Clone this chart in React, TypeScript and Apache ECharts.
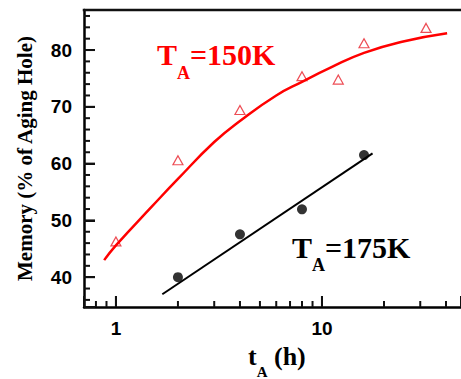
import React, { useEffect, useRef } from 'react';
import * as echarts from 'echarts';

// Measured data (T_A = 150 K, open triangles)
const t150 = [1, 2, 4, 8, 12, 16, 32];
const mem150 = [46.3, 60.6, 69.45, 75.4, 74.8, 81.2, 83.9];
// Measured data (T_A = 175 K, filled circles)
const t175 = [2, 4, 8, 16];
const mem175 = [40.0, 47.55, 51.95, 61.5];
// Fitted curves
const fit150T = [0.877, 1, 1.5, 2, 3, 4, 6, 8, 11, 16, 24.8, 40.5];
const fit150M = [43.0, 45.6, 52.5, 57.3, 63.8, 67.5, 72.0, 74.4, 76.9, 79.5, 81.5, 82.95];
const fit175T = [1.68, 17.6];
const fit175M = [37.0, 61.8];
// Ticks
const xMajorTicks = [1, 10];
const xMinorTicks = [0.8, 0.9, 2, 3, 4, 5, 6, 7, 8, 9, 20, 30, 40];
const yMajorTicks = [40, 50, 60, 70, 80];
const yMinorTicks = [36, 38, 42, 44, 46, 48, 52, 54, 56, 58, 62, 64, 66, 68, 72, 74, 76, 78, 82, 84, 86];

const X_MIN = 0.7;
const X_MAX = 47.3;
const Y_MIN = 34.75;
const Y_MAX = 87.05;

const SERIF = 'Liberation Serif';
const SANS = 'Liberation Sans';

export default function App() {
  const ref = useRef<HTMLDivElement>(null);
  useEffect(() => {
    document.body.style.margin = '0';
    const chart = echarts.init(ref.current!, undefined, { renderer: 'svg' });
    const isPow10 = (v: number) => Math.abs(Math.log10(v) - Math.round(Math.log10(v))) < 1e-6;
    const textEls: any[] = [
      {
        type: 'text',
        x: 157,
        y: 39,
        style: {
          text: '{t|T}{s|A}{t|=150K}',
          rich: {
            t: { fontSize: 30, fontFamily: SERIF, fontWeight: 'bold', fill: '#f00', lineHeight: 30, verticalAlign: 'top' },
            s: { fontSize: 18, fontFamily: SERIF, fontWeight: 'bold', fill: '#f00', lineHeight: 18, verticalAlign: 'top', padding: [25, 0, 0, 0] },
          },
        },
      },
      {
        type: 'text',
        x: 292,
        y: 232,
        style: {
          text: '{t|T}{s|A}{t|=175K}',
          rich: {
            t: { fontSize: 30, fontFamily: SERIF, fontWeight: 'bold', fill: '#000', lineHeight: 30, verticalAlign: 'top' },
            s: { fontSize: 18, fontFamily: SERIF, fontWeight: 'bold', fill: '#000', lineHeight: 18, verticalAlign: 'top', padding: [24, 0, 0, 0] },
          },
        },
      },
      {
        type: 'text',
        x: 248,
        y: 343,
        style: {
          text: '{t|t}{s|A}{t| (h)}',
          rich: {
            t: { fontSize: 26, fontFamily: SERIF, fontWeight: 'bold', fill: '#000', lineHeight: 26, verticalAlign: 'top' },
            s: { fontSize: 15, fontFamily: SERIF, fontWeight: 'bold', fill: '#000', lineHeight: 15, verticalAlign: 'top', padding: [21, 0, 0, 0] },
          },
        },
      },
    ];
    chart.setOption({
      animation: false,
      backgroundColor: '#fff',
      grid: { left: 84, top: 10, right: 0, bottom: 72, outerBoundsMode: 'none', containLabel: false },
      xAxis: {
        type: 'log',
        logBase: 10,
        min: X_MIN,
        max: X_MAX,
        axisLine: { show: true, lineStyle: { color: '#000', width: 2.5 } },
        axisTick: { show: true, inside: true, length: 11, lineStyle: { color: '#111', width: 2 } },
        splitLine: { show: false },
        axisLabel: {
          margin: 12,
          color: '#000',
          fontFamily: SANS,
          fontWeight: 'bold',
          fontSize: 19,
          formatter: (v: number) => (isPow10(v) ? String(Math.round(v)) : ''),
        },
      },
      yAxis: {
        type: 'value',
        min: Y_MIN,
        max: Y_MAX,
        name: 'Memory (% of Aging Hole)',
        nameLocation: 'middle',
        nameRotate: 90,
        nameGap: 49,
        nameTextStyle: { fontFamily: SERIF, fontWeight: 'bold', fontSize: 21, color: '#000' },
        axisLine: { show: true, lineStyle: { color: '#000', width: 2.5 } },
        axisTick: { show: true, inside: true, length: 11, lineStyle: { color: '#111', width: 2 } },
        splitLine: { show: false },
        axisLabel: {
          margin: 12,
          color: '#000',
          fontFamily: SANS,
          fontWeight: 'bold',
          fontSize: 19,
          formatter: (v: number) => (Math.abs(v % 10) < 1e-6 ? String(Math.round(v)) : ''),
        },
      },
      graphic: textEls,
      series: [
        {
          type: 'scatter',
          data: t175.map((t, i) => [t, mem175[i]]),
          symbol: 'circle',
          symbolSize: 10,
          itemStyle: { color: '#000' },
        },
        {
          type: 'scatter',
          data: t150.map((t, i) => [t, mem150[i]]),
          symbol: 'triangle',
          symbolSize: [10, 9],
          itemStyle: { color: '#fff', borderColor: '#e8202a', borderWidth: 1.2 },
        },
        {
          type: 'line',
          data: fit150T.map((t, i) => [t, fit150M[i]]),
          smooth: true,
          symbol: 'none',
          lineStyle: { color: '#ff0000', width: 2.5 },
        },
        {
          type: 'line',
          data: fit175T.map((t, i) => [t, fit175M[i]]),
          symbol: 'none',
          lineStyle: { color: '#000', width: 2 },
        },
      ],
    });

    // Frame line and ticks, positioned through the chart's own scales
    const px = (x: number, y: number) => chart.convertToPixel({ gridIndex: 0 }, [x, y]) as unknown as number[];
    const box = (x: number, y: number, w: number, h: number) => ({
      type: 'rect',
      shape: { x, y, width: w, height: h },
      style: { fill: '#111' },
      z: 10,
    });
    const frame: any[] = [];
    const tl = px(X_MIN, Y_MAX);
    const tr = px(X_MAX, Y_MAX);
    if (tl && tr) frame.push(box(tl[0] - 1.25, tl[1] - 1.25, tr[0] - tl[0] + 3, 2.5));
    const addX = (vals: number[], len: number) =>
      vals.forEach((v) => {
        const p = px(v, Y_MIN);
        if (p) frame.push(box(p[0] - 1, p[1] - len, 2, len));
      });
    const addY = (vals: number[], len: number) =>
      vals.forEach((v) => {
        const p = px(X_MIN, v);
        if (p) frame.push(box(p[0], p[1] - 1, len, 2));
      });
    addX(xMajorTicks, 11);
    addX(xMinorTicks, 6);
    addY(yMajorTicks, 11);
    addY(yMinorTicks, 6);
    chart.setOption({ graphic: [...textEls, ...frame] });

    return () => chart.dispose();
  }, []);
  return <div ref={ref} style={{ position: 'fixed', left: 0, top: 0, width: 461, height: 379 }} />;
}
